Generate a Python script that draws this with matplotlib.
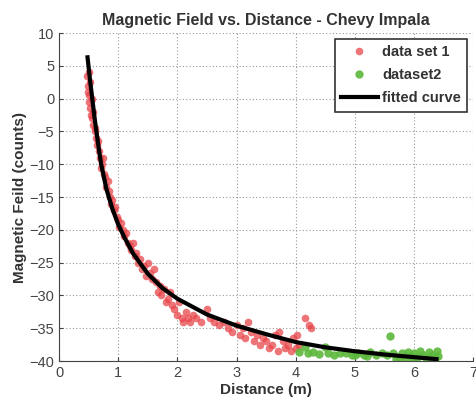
import matplotlib
matplotlib.use("Agg")
import matplotlib.pyplot as plt

plt.rcParams['font.family'] = ['Liberation Sans', 'DejaVu Sans']

title = "Magnetic Field vs. Distance - Chevy Impala"
xlabel = "Distance (m)"
ylabel = "Magnetic Feild (counts)"
legend_labels = ["data set 1", "dataset2", "fitted curve"]

red_x = [0.47, 0.48, 0.49, 0.50, 0.50, 0.51, 0.52, 0.53, 0.54, 0.55, 0.56, 0.57, 0.58,
         0.60, 0.61, 0.62, 0.64, 0.65, 0.67, 0.69, 0.70, 0.72, 0.74, 0.76, 0.78, 0.80,
         0.82, 0.84, 0.86, 0.88, 0.90, 0.93, 0.95, 0.97, 1.00, 1.02, 1.05, 1.08, 1.10,
         1.13, 1.16, 1.19, 1.22, 1.25, 1.28, 1.30, 1.33, 1.37, 1.40, 1.43, 1.47, 1.50,
         1.53, 1.57, 1.60, 1.63, 1.67, 1.70, 1.73, 1.77, 1.80, 1.84, 1.87, 1.90, 1.95,
         2.00, 2.03, 2.07, 2.10, 2.15, 2.18, 2.22, 2.27, 2.32, 2.40, 2.50, 2.55, 2.62,
         2.70, 2.78, 2.85, 2.92, 3.00, 3.05, 3.10, 3.15, 3.20, 3.25, 3.30, 3.35, 3.40,
         3.45, 3.50, 3.55, 3.60, 3.65, 3.70, 3.72, 3.78, 3.82, 3.87, 3.92, 3.95, 4.00,
         4.02, 4.05, 4.15, 4.22, 4.25]
red_y = [3.5, 2.0, 1.0, 4.0, 0.5, -0.5, 2.5, -1.5, -2.5, 0.0, -3.0, -4.0, -2.0,
         -5.0, -4.5, -6.0, -7.0, -6.5, -8.0, -9.0, -10.5, -10.0, -9.0, -11.5, -12.0, -13.5,
         -12.5, -14.0, -15.0, -16.0, -15.5, -17.0, -16.5, -18.0, -18.5, -19.5, -19.0, -20.0, -21.0,
         -20.5, -22.0, -22.5, -23.0, -22.0, -24.0, -23.5, -25.0, -24.5, -26.0, -25.5, -27.0, -25.0,
         -26.5, -27.5, -26.0, -28.0, -29.5, -28.5, -30.0, -29.0, -31.0, -30.5, -29.5, -31.5, -32.0,
         -33.0, -31.0, -33.5, -34.0, -32.5, -33.5, -34.0, -33.0, -33.5, -34.0, -32.0, -33.5, -34.0,
         -34.5, -34.0, -35.0, -35.5, -34.5, -36.0, -35.0, -36.5, -34.0, -35.5, -37.0, -36.0, -37.5,
         -36.5, -37.0, -38.0, -37.5, -36.0, -38.5, -35.5, -37.0, -38.0, -37.5, -38.5, -36.5, -38.0,
         -36.0, -37.5, -33.5, -34.5, -35.0]

green_x = [4.05, 4.15, 4.20, 4.30, 4.40, 4.50, 4.55, 4.65, 4.75, 4.85, 4.95, 5.00, 5.05,
           5.15, 5.20, 5.25, 5.35, 5.45, 5.55, 5.60, 5.65, 5.75, 5.80, 5.85, 5.90, 5.95,
           6.00, 6.05, 6.10, 6.15, 6.20, 6.25, 6.30, 6.35, 6.38, 6.40, 5.70, 5.98, 6.28]
green_y = [-38.6, -37.9, -38.8, -38.6, -38.9, -37.9, -38.7, -39.0, -38.7, -38.8, -39.1, -39.0, -38.7,
           -39.0, -39.3, -38.6, -39.1, -38.8, -39.1, -36.1, -38.7, -39.4, -38.8, -39.7, -38.6, -39.3,
           -38.7, -39.6, -38.5, -39.1, -39.5, -38.6, -39.0, -39.6, -38.5, -39.2, -39.7, -39.8, -39.8]

curve_x = [0.48, 0.52, 0.56, 0.60, 0.63, 0.67, 0.71, 0.80, 0.90, 1.00, 1.10, 1.25, 1.50, 1.75, 2.00,
           2.50, 3.00, 3.50, 4.00, 4.50, 5.00, 5.50, 6.00, 6.38]
curve_y = [6.3, 3.0, 0.0, -3.0, -5.0, -7.6, -10.0, -13.8, -16.8, -19.2, -21.1, -23.6, -26.7, -28.9, -30.5,
           -32.9, -34.6, -35.9, -37.1, -37.9, -38.5, -39.0, -39.4, -39.7]

fig = plt.figure(figsize=(4.77, 4.03), dpi=100)
ax = fig.add_axes([0.124, 0.104, 0.868, 0.814])

ax.plot(red_x, red_y, 'o', color='#e8454a', alpha=0.75, ms=5.5, mec='none', label=legend_labels[0], zorder=2)
ax.plot(green_x, green_y, 'o', color='#5cb83c', alpha=0.9, ms=6, mec='none', label=legend_labels[1], zorder=2)
ax.plot(curve_x, curve_y, '-', color='black', lw=3, label=legend_labels[2], zorder=3)

ax.set_xlim(0, 7)
ax.set_ylim(-40, 10)
ax.set_xticks(range(0, 8))
ax.set_yticks(range(-40, 11, 5))
ax.grid(True, linestyle=(0, (1, 2)), color='#9a9a9a', lw=0.8)
ax.tick_params(direction='in', labelsize=10.5, colors='#444444', length=3)
for s in ['top', 'right']:
    ax.spines[s].set_visible(False)
for s in ['left', 'bottom']:
    ax.spines[s].set_color('#444444')

ax.set_title(title, fontsize=11.5, fontweight='bold', color='#333333', pad=6)
ax.set_xlabel(xlabel, fontsize=11, fontweight='bold', color='#333333', labelpad=2)
ax.set_ylabel(ylabel, fontsize=11, fontweight='bold', color='#333333', labelpad=2)

leg = ax.legend(loc='upper right', prop={'size': 10.5, 'weight': 'bold'}, fancybox=False, framealpha=1,
                edgecolor='#333333', numpoints=1, handlelength=2.5, borderaxespad=0.4,
                handletextpad=0.3, labelspacing=0.6, borderpad=0.45)
leg.get_frame().set_linewidth(1.2)
for t in leg.get_texts():
    t.set_color('#333333')

fig.savefig('out.png', dpi=100)
